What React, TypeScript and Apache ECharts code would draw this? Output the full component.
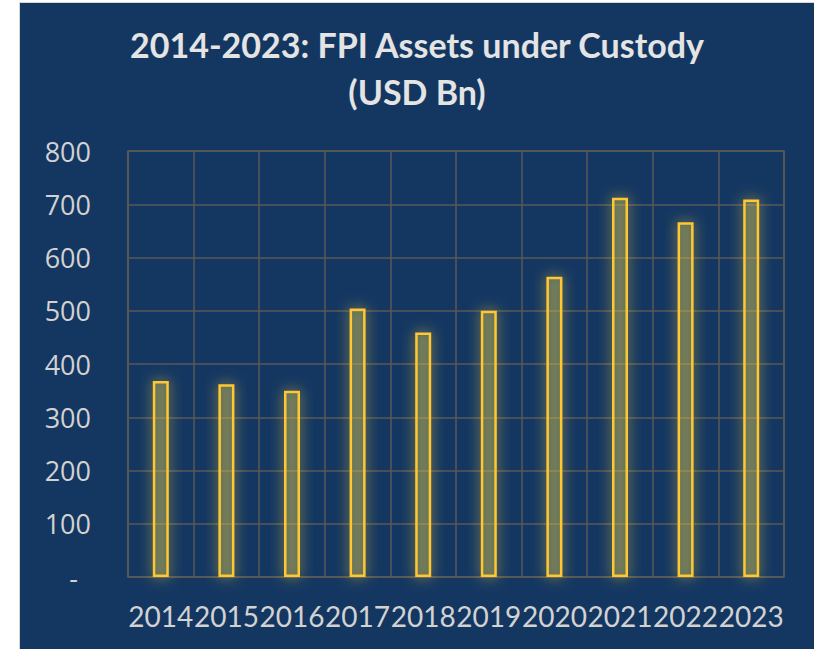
import React, { useEffect, useRef } from "react";
import * as echarts from "echarts";

const years = ["2014", "2015", "2016", "2017", "2018", "2019", "2020", "2021", "2022", "2023"];
const assets = [368, 362, 350, 504, 459, 500, 564, 712, 666, 709];
const titleLines = ["2014-2023: FPI Assets under Custody", "(USD Bn)"];
const yMin = 0;
const yMax = 800;
const yStep = 100;

export default function App() {
  const ref = useRef<HTMLDivElement>(null);
  useEffect(() => {
    if (!ref.current) return;
    const chart = echarts.init(ref.current, null, { renderer: "svg" });
    chart.setOption({
      animation: false,
      backgroundColor: "#143762",
      title: {
        text: titleLines.join("\n"),
        left: "center",
        top: 18,
        padding: 0,
        textStyle: {
          fontFamily: "Lato",
          fontWeight: "bold",
          fontSize: 34,
          lineHeight: 47,
          color: "#e4e4e4",
        },
      },
      grid: {
        left: 108,
        right: 30,
        top: 148,
        bottom: 72,
        show: true,
        borderColor: "#585858",
        borderWidth: 1.5,
      },
      xAxis: {
        type: "category",
        data: years,
        axisLine: { show: true, lineStyle: { color: "#585858", width: 1.5 } },
        axisTick: { show: false },
        splitLine: { show: true, interval: 0, lineStyle: { color: "#585858", width: 1.5 } },
        axisLabel: {
          interval: 0,
          hideOverlap: false,
          margin: 25,
          color: "#d2d2d2",
          fontFamily: "Lato",
          fontSize: 28,
        },
      },
      yAxis: {
        type: "value",
        min: yMin,
        max: yMax,
        interval: yStep,
        axisLine: { show: true, lineStyle: { color: "#585858", width: 1.5 } },
        axisTick: { show: false },
        splitLine: { show: true, lineStyle: { color: "#585858", width: 1.5 } },
        axisLabel: {
          margin: 37,
          color: "#d2d2d2",
          fontFamily: "Open Sans",
          fontSize: 27,
          formatter: (v: number) => (v === 0 ? "{d|-}" : String(v)),
          rich: {
            d: {
              fontFamily: "Open Sans",
              fontSize: 27,
              color: "#d2d2d2",
              padding: [0, 13, 0, 0],
            },
          },
        },
      },
      series: [
        {
          type: "bar",
          data: assets,
          barWidth: 16,
          itemStyle: {
            color: "rgba(190,190,90,0.28)",
            borderColor: "#ffc832",
            borderWidth: 2.5,
            shadowBlur: 14,
            shadowColor: "rgba(255,210,50,0.75)",
          },
        },
      ],
    });
    return () => chart.dispose();
  }, []);

  return (
    <div style={{ position: "fixed", left: 0, top: 0, width: 814, height: 649, background: "#ffffff" }}>
      <div
        style={{
          position: "absolute",
          left: 19,
          top: 2,
          width: 795,
          height: 647,
          background: "#d6d6d6",
        }}
      />
      <div ref={ref} style={{ position: "absolute", left: 20, top: 3, width: 794, height: 646 }} />
    </div>
  );
}
